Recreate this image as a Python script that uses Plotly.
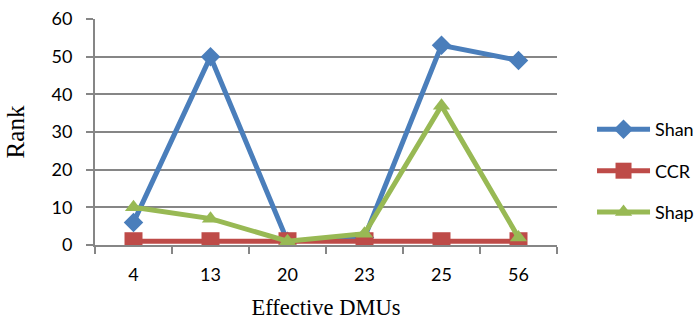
import plotly.graph_objects as go

categories = ["4", "13", "20", "23", "25", "56"]
shan = [6, 50, 1, 2, 53, 49]
ccr = [1, 1, 1, 1, 1, 1]
shap = [10, 7, 1, 3, 37, 2]
y_ticks = [0, 10, 20, 30, 40, 50, 60]

fig = go.Figure()
fig.add_trace(go.Scatter(x=categories, y=shan, name="Shan", mode="lines+markers",
                         legendgroup="a",
                         line=dict(color="#4A7EBB", width=5),
                         marker=dict(symbol="diamond", size=15, color="#4A7EBB")))
fig.add_trace(go.Scatter(x=categories, y=ccr, name="CCR", mode="lines+markers",
                         legendgroup="b",
                         line=dict(color="#BE4B48", width=5),
                         marker=dict(symbol="square", size=18, color="#BE4B48")))
fig.add_trace(go.Scatter(x=categories, y=shap, name="Shap", mode="lines+markers",
                         legendgroup="c",
                         line=dict(color="#98B954", width=5),
                         marker=dict(symbol="triangle-up", size=15, color="#98B954")))

serif = "Liberation Serif, Times New Roman, serif"
fig.update_layout(
    width=696, height=320,
    margin=dict(l=95, r=139, t=19, b=75, autoexpand=False),
    paper_bgcolor="white", plot_bgcolor="white",
    font=dict(family="Lato, Open Sans, sans-serif", size=18, color="black"),
    legend=dict(x=1.0758, y=0.327, xanchor="left", yanchor="middle",
                font=dict(size=18), itemwidth=53, tracegroupgap=15,
                bgcolor="rgba(0,0,0,0)"),
    xaxis=dict(type="category", range=[-0.5, 5.5], tickson="boundaries",
               ticks="outside", ticklen=7, tickcolor="#868686", tickwidth=1.5,
               ticklabelstandoff=12, ticklabeloverflow="allow",
               showline=True, linecolor="#868686", linewidth=2,
               showgrid=False,
               title=dict(text="Effective DMUs", font=dict(family=serif, size=22.5), standoff=20)),
    yaxis=dict(range=[0, 60], tickvals=y_ticks, ticks="outside", ticklen=7,
               tickcolor="#868686", tickwidth=1.5, ticklabelstandoff=10,
               ticklabeloverflow="allow",
               showline=True, linecolor="#868686", linewidth=2,
               showgrid=True, gridcolor="#868686", gridwidth=1.5, zeroline=False,
               title=dict(text="Rank", font=dict(family=serif, size=25), standoff=20)),
)

fig.write_html("out.html",
               config={"displayModeBar": False},
               post_script="document.body.style.margin='0';document.body.style.overflow='hidden';")
